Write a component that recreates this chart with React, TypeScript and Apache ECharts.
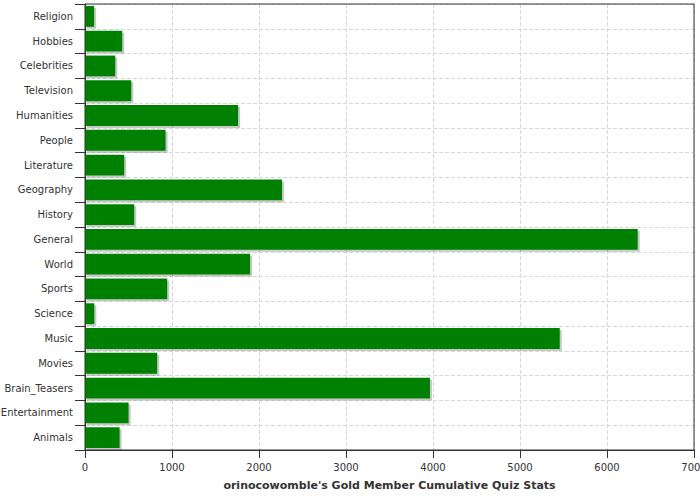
import React, { useEffect, useRef } from "react";
import * as echarts from "echarts";

const categories = [
  "Religion", "Hobbies", "Celebrities", "Television", "Humanities", "People",
  "Literature", "Geography", "History", "General", "World", "Sports",
  "Science", "Music", "Movies", "Brain_Teasers", "Entertainment", "Animals",
];
const values = [
  105, 428, 348, 532, 1760, 926, 451, 2265, 566, 6353, 1898, 945,
  107, 5457, 830, 3965, 501, 398,
];
const xTicks = { min: 0, max: 7000, interval: 1000 };
const axisTitle = "orinocowomble's Gold Member Cumulative Quiz Stats";

export default function App() {
  const ref = useRef<HTMLDivElement>(null);
  useEffect(() => {
    const chart = echarts.init(ref.current!, null, { renderer: "svg" });
    chart.setOption({
      animation: false,
      textStyle: { fontFamily: "DejaVu Sans" },
      grid: {
        left: 85, right: 6, top: 4, bottom: 50,
        containLabel: false,
        outerBoundsMode: "none",
        z: 5,
        show: true, borderColor: "#333", borderWidth: 1,
      },
      xAxis: {
        type: "value",
        min: xTicks.min, max: xTicks.max, interval: xTicks.interval,
        name: axisTitle,
        nameLocation: "middle",
        nameGap: 30,
        nameTextStyle: { fontWeight: "bold", fontSize: 11, color: "#333" },
        axisLine: { show: true, lineStyle: { color: "#333" } },
        axisTick: { show: true, length: 8, lineStyle: { color: "#333" } },
        axisLabel: { color: "#333", fontSize: 10, margin: 12, formatter: (v: number) => String(v) },
        splitLine: { show: true, lineStyle: { type: "dashed", color: "#d3d9d9" } },
      },
      yAxis: {
        type: "category",
        data: categories,
        inverse: true,
        axisLine: { show: true, lineStyle: { color: "#333" } },
        axisTick: { show: true, length: 10, lineStyle: { color: "#333" } },
        axisLabel: { color: "#333", fontSize: 10, margin: 12 },
        splitLine: { show: true, lineStyle: { type: "dashed", color: "#d3d9d9" } },
      },
      series: [
        {
          type: "bar",
          data: values,
          barCategoryGap: "16%",
          itemStyle: {
            color: "#008000",
            shadowColor: "rgba(0,0,0,0.22)",
            shadowOffsetX: 2,
            shadowOffsetY: 2,
            shadowBlur: 0,
          },
        },
      ],
    });
    return () => chart.dispose();
  }, []);
  return <div ref={ref} style={{ width: 700, height: 500, position: "absolute", left: 0, top: 0 }} />;
}
